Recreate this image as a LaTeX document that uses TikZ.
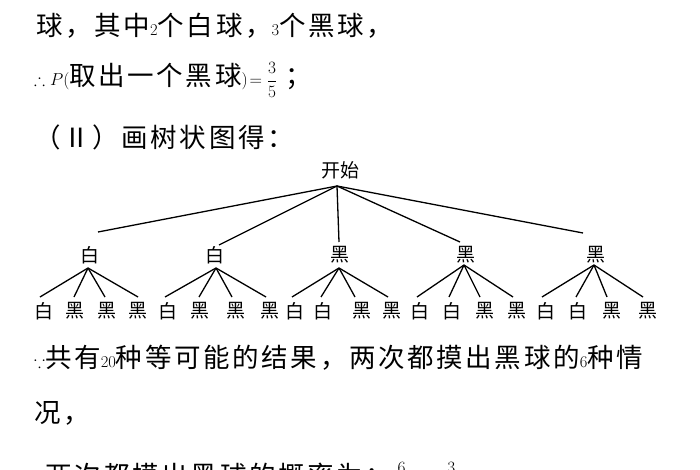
\documentclass[tikz,border=0pt]{standalone}
\usepackage{amssymb}
\usepackage{fontspec}
\newfontfamily\cjk[LetterSpace=10]{Noto Sans CJK SC}
\newfontfamily\cjktree{Noto Sans CJK SC}
\newcommand\numfont{\rmfamily\fontsize{16.5}{16.5}\selectfont}
\tikzset{
  txt/.style={anchor=west, inner sep=0pt, font=\cjk\fontsize{26.5}{27}\selectfont},
  ball/.style={inner sep=0pt, font=\cjktree\fontsize{19}{19}\selectfont},
  branch/.style={line width=1.3pt}
}
\begin{document}
\begin{tikzpicture}[x=1pt, y=-1pt]
  \useasboundingbox (0,0) rectangle (700,470);
  \clip (0,0) rectangle (700,470);

  % text above the tree
  \node[txt] (l1) at (36,26) {球，其中{\numfont 2}个白球，{\numfont 3}个黑球，};
  \node[txt] (l2) at (34,80) {{\numfont$\therefore P($}取出一个黑球{\numfont$)\!=\displaystyle\frac{3}{5}$}\ ；};
  \node[txt] (l3) at (34,137) {（Ⅱ）画树状图得：};

  % tree
  \node[ball] (root) at (340,170) {开始};
  \coordinate (r) at (337,186);

  \foreach \i/\lab/\x/\tx/\ty/\bx/\by in {
      1/白/90/98/232/88/268, 2/白/215/219/245/216/268,
      3/黑/340/339/242/339/268, 4/黑/466/460/242/464/265,
      5/黑/596/583/233/594/265} {
    \node[ball] (n\i) at (\x,255) {\lab};
    \coordinate (t\i) at (\tx,\ty);
    \coordinate (b\i) at (\bx,\by);
    \draw[branch] (r) -- (t\i);
  }

  % leaves
  \foreach \i/\j/\lab/\x/\tx in {
      1/1/白/44/40, 1/2/黑/75/74, 1/3/黑/107/105, 1/4/黑/138/138,
      2/1/白/168/165, 2/2/黑/200/199, 2/3/黑/236/232, 2/4/黑/270/266,
      3/1/白/295/292, 3/2/白/323/321, 3/3/黑/362/355, 3/4/黑/392/388,
      4/1/白/420/417, 4/2/白/452/449, 4/3/黑/485/480, 4/4/黑/517/513,
      5/1/白/546/542, 5/2/白/578/576, 5/3/黑/612/607, 5/4/黑/648/643} {
    \node[ball] (m\i\j) at (\x,311) {\lab};
    \coordinate (s\i\j) at (\tx,297);
    \draw[branch] (b\i) -- (s\i\j);
  }

  % text below the tree
  \node[txt] (l4) at (34,358) {{\numfont$\because$}共有{\numfont 20}种等可能的结果，两次都摸出黑球的{\numfont 6}种情};
  \node[txt] (l5) at (34,413) {况，};
  \node[txt] (l6) at (34,480) {{\numfont$\therefore$}两次都摸出黑球的概率为：{\numfont$\displaystyle\frac{6}{20}\;=\;\frac{3}{10}$}};
\end{tikzpicture}
\end{document}
